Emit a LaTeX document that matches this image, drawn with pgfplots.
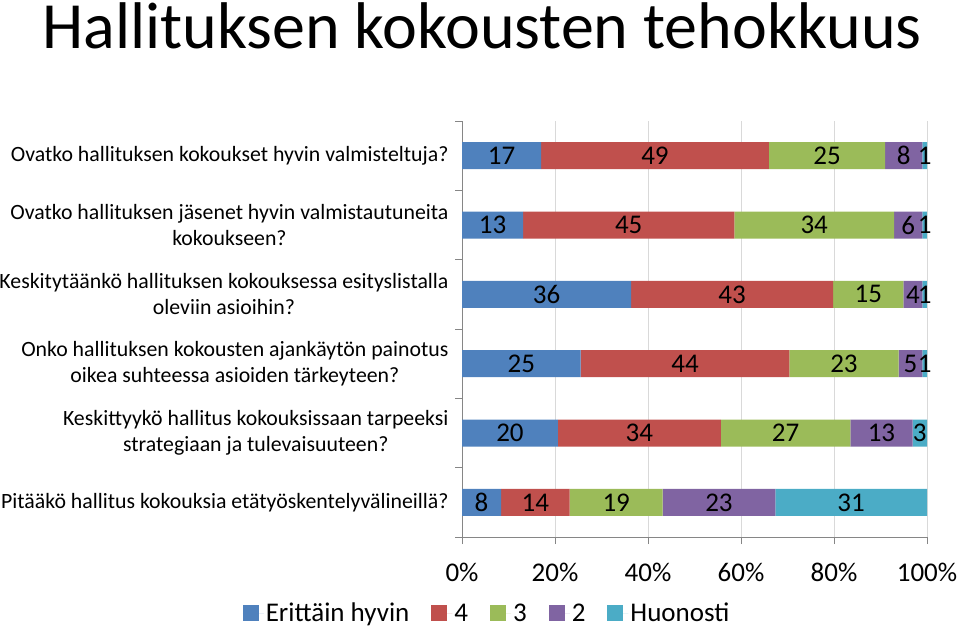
\documentclass[border=0pt]{standalone}
\usepackage{pgfplots}
\pgfplotsset{compat=1.18}
\usepackage{pgfplotstable}
\usepackage{fontspec}
\setmainfont{Carlito}
\definecolor{cA}{HTML}{4F81BD}
\definecolor{cB}{HTML}{C0504D}
\definecolor{cC}{HTML}{9BBB59}
\definecolor{cD}{HTML}{8064A2}
\definecolor{cE}{HTML}{4BACC6}
\definecolor{gridc}{HTML}{D9D9D9}
\definecolor{axc}{HTML}{868686}

% pos 5 = top question; a..e = share of each answer (normalised to 100), la..le = printed values
\pgfplotstableread{
pos a b c d e la lb lc ld le
5 17.00 49.00 25.00 8.00 1.00 17 49 25 8 1
4 13.13 45.45 34.34 6.06 1.01 13 45 34 6 1
3 36.36 43.43 15.15 4.04 1.01 36 43 15 4 1
2 25.51 44.90 23.47 5.10 1.02 25 44 23 5 1
1 20.62 35.05 27.84 13.40 3.09 20 34 27 13 3
0 8.42 14.74 20.00 24.21 32.63 8 14 19 23 31
}\data

\begin{document}
\begin{tikzpicture}[x=1pt,y=1pt]
\path[use as bounding box] (0pt,0pt) rectangle (960pt,630pt);
\node[anchor=base, font=\fontsize{66}{70}\selectfont] at (482pt,581.5pt) {Hallituksen kokousten tehokkuus};
\begin{axis}[
  at={(462pt,93pt)}, anchor=south west,
  scale only axis, width=465pt, height=416pt,
  xbar stacked, bar width=27pt,
  xmin=0, xmax=100, ymin=-0.5, ymax=5.5,
  axis x line*=bottom, axis y line*=left,
  axis line style={axc, line width=0.8pt, -},
  xtick={0,20,...,100}, xticklabels={0\%,20\%,40\%,60\%,80\%,100\%},
  xticklabel style={font=\fontsize{27}{32}\selectfont, yshift=-16pt},
  xmajorgrids, major grid style={gridc, line width=0.8pt},
  ytick={0,...,5},
  yticklabels={
    {Pitääkö hallitus kokouksia etätyöskentelyvälineillä?},
    {Keskittyykö hallitus kokouksissaan tarpeeksi\\strategiaan ja tulevaisuuteen?},
    {Onko hallituksen kokousten ajankäytön painotus\\oikea suhteessa asioiden tärkeyteen?},
    {Keskitytäänkö hallituksen kokouksessa esityslistalla\\oleviin asioihin?},
    {Ovatko hallituksen jäsenet hyvin valmistautuneita\\kokoukseen?},
    {Ovatko hallituksen kokoukset hyvin valmisteltuja?}},
  yticklabel style={align=center, font=\fontsize{21.8}{26}\selectfont, xshift=-3pt},
  major y tick style={draw=none},
  minor ytick={-0.5,0.5,...,5.5},
  minor y tick style={axc, line width=0.8pt},
  major x tick style={axc, line width=0.8pt},
  tick align=outside, major tick length=7pt, minor tick length=7pt,
  point meta=explicit,
  nodes near coords,
  every node near coord/.append style={font=\fontsize{27}{32}\selectfont, anchor=center},
  /pgf/number format/assume math mode=true,
  legend columns=5,
  legend style={at={(0.054,-0.183)}, anchor=center, draw=none, fill=none,
    font=\fontsize{27}{32}\selectfont,
    /tikz/every even column/.append style={column sep=20pt}},
  legend image code/.code={\fill[#1] (0pt,-8pt) rectangle (16pt,8pt); \path (0pt,0pt) -- (21pt,0pt);},
]
\addplot[fill=cA, draw=none] table[x=a, y=pos, meta=la] {\data};
\addplot[fill=cB, draw=none] table[x=b, y=pos, meta=lb] {\data};
\addplot[fill=cC, draw=none] table[x=c, y=pos, meta=lc] {\data};
\addplot[fill=cD, draw=none] table[x=d, y=pos, meta=ld] {\data};
\addplot[fill=cE, draw=none] table[x=e, y=pos, meta=le] {\data};
\legend{Erittäin hyvin, 4, 3, 2, Huonosti}
\end{axis}
\end{tikzpicture}
\end{document}
